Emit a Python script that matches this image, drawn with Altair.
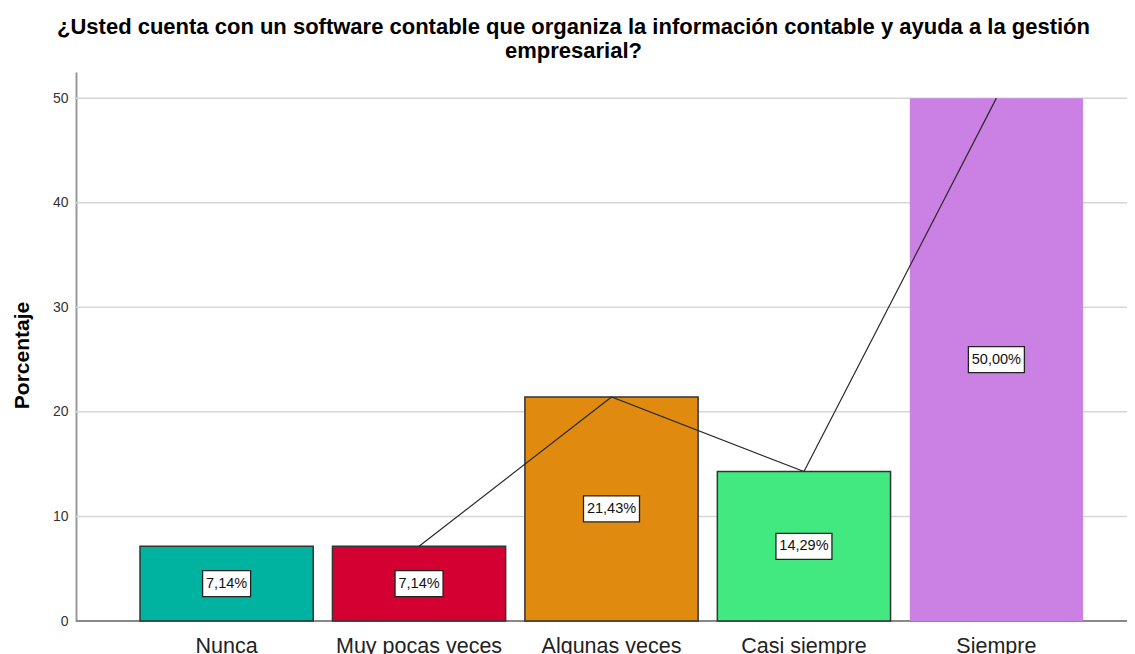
import altair as alt
import pandas as pd

categories = ["Nunca", "Muy pocas veces", "Algunas veces", "Casi siempre", "Siempre"]
values = [7.14, 7.14, 21.43, 14.29, 50.00]
colors = ["#00B3A1", "#D50032", "#E08A0F", "#42E981", "#CB80E3"]
y_ticks = [0, 10, 20, 30, 40, 50]

labels = [f"{v:.2f}".replace(".", ",") + "%" for v in values]
df = pd.DataFrame({"cat": categories, "val": values, "label": labels})
grid_df = pd.DataFrame({"t": y_ticks})

FONT = "Liberation Sans"
W, H = 1051, 549

x = alt.X("cat:N", sort=categories, title=None,
          scale=alt.Scale(range=[64, 1007], paddingInner=0.1, paddingOuter=0, round=False),
          axis=alt.Axis(labelAngle=0, labelFontSize=21.5, labelColor="#222222",
                        labelFont=FONT, ticks=False, labelPadding=14,
                        domain=False, grid=False))
yscale = alt.Scale(domain=[0, 52.5], nice=False, zero=True)
yaxis = alt.Axis(values=y_ticks, ticks=False, labelFontSize=14, labelFont=FONT,
                 labelColor="#333333", labelPadding=8, grid=False,
                 domainColor="#999999", domainWidth=2,
                 titleFont=FONT, titleFontSize=21, titleFontWeight="bold",
                 titleColor="#000000", titleX=-54, titleY=283,
                 titleAngle=-90, titleAlign="center", titleBaseline="middle")
TITLE_Y = "Porcentaje"

base = alt.Chart(df)

grid = alt.Chart(grid_df).transform_filter("datum.t > 0").mark_rule(
    color="#d6d6d6", strokeWidth=1.5).encode(
    y=alt.Y("t:Q", scale=yscale, axis=yaxis, title=TITLE_Y),
    x=alt.value(0), x2=alt.value(W),
)
baseline = alt.Chart(grid_df).transform_filter("datum.t == 0").mark_rule(
    color="#888888", strokeWidth=2).encode(
    y=alt.Y("t:Q", scale=yscale, axis=yaxis, title=TITLE_Y),
    x=alt.value(0), x2=alt.value(W),
)

bars = base.mark_bar(stroke="#333333").encode(
    x=x,
    y=alt.Y("val:Q", scale=yscale, axis=yaxis, title=TITLE_Y),
    color=alt.Color("cat:N", sort=categories,
                    scale=alt.Scale(domain=categories, range=colors), legend=None),
    strokeWidth=alt.condition(alt.datum.cat == "Siempre", alt.value(0), alt.value(1.5)),
)

line = base.transform_filter(alt.datum.cat != "Nunca").mark_line(
    color="#2a2a2a", strokeWidth=1.2).encode(
    x=alt.X("cat:N", sort=categories),
    y=alt.Y("val:Q", scale=yscale, axis=yaxis, title=TITLE_Y),
)

mid = base.transform_calculate(mid="datum.val / 2")

box_short = mid.transform_filter("length(datum.label) <= 5").mark_bar(
    width=48, fill="white", stroke="#222222", strokeWidth=1.3,
    yOffset=-13, y2Offset=13).encode(
    x=alt.X("cat:N", sort=categories),
    y=alt.Y("mid:Q", scale=yscale, axis=yaxis, title=TITLE_Y),
    y2="mid:Q",
)
box_long = mid.transform_filter("length(datum.label) > 5").mark_bar(
    width=56, fill="white", stroke="#222222", strokeWidth=1.3,
    yOffset=-13, y2Offset=13).encode(
    x=alt.X("cat:N", sort=categories),
    y=alt.Y("mid:Q", scale=yscale, axis=yaxis, title=TITLE_Y),
    y2="mid:Q",
)

text = mid.mark_text(fontSize=14.5, font=FONT, color="#111111", baseline="middle").encode(
    x=alt.X("cat:N", sort=categories),
    y=alt.Y("mid:Q", scale=yscale, axis=yaxis, title=TITLE_Y),
    text="label:N",
)

chart = alt.layer(grid, baseline, bars, line, box_short, box_long, text).properties(
    width=W, height=H,
    title=alt.TitleParams(
        ["¿Usted cuenta con un software contable que organiza la información contable y ayuda a la gestión",
         "empresarial?"],
        font=FONT, fontSize=22, fontWeight="bold", color="#000000",
        anchor="middle", dx=-28, offset=9, lineHeight=24),
    padding={"left": 68, "top": 64, "right": 0, "bottom": 40},
    autosize=alt.AutoSizeParams(type="none"),
).configure_view(stroke=None)

chart.save("out.html", embed_options={"renderer": "svg", "actions": False})
